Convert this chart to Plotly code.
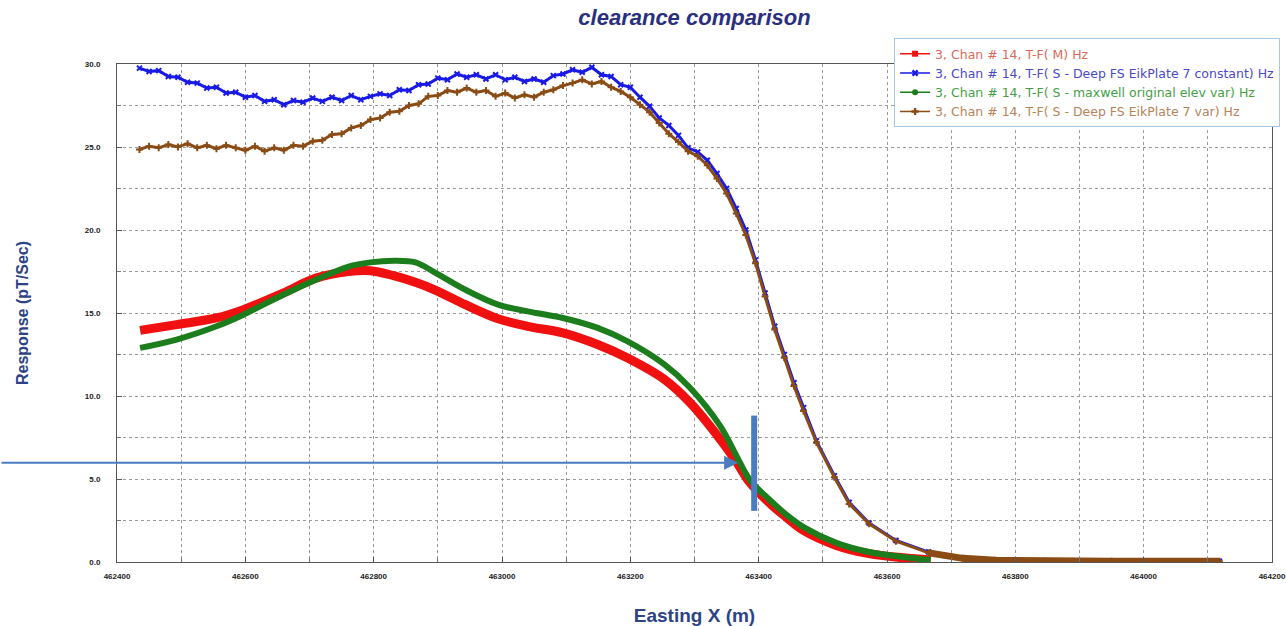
import plotly.graph_objects as go

# ---------------- data ----------------
noisy_x = [462435 + 15 * k for k in range(58)] + [
    463305, 463320, 463335, 463350, 463365, 463380, 463395, 463410, 463425,
    463440, 463455, 463470, 463490, 463518, 463541, 463572, 463614, 463665,
    463718, 463769, 463846, 463950, 464118]

blue_y = [29.75, 29.55, 29.6, 29.25, 29.2, 28.9, 28.85, 28.55, 28.6, 28.25,
          28.3, 28.0, 28.1, 27.75, 27.85, 27.55, 27.8, 27.7, 27.95, 27.75,
          28.0, 27.8, 28.1, 27.85, 28.05, 28.2, 28.1, 28.45, 28.4, 28.75,
          28.8, 29.15, 29.05, 29.4, 29.2, 29.35, 29.1, 29.35, 29.05, 29.2,
          28.95, 29.1, 28.9, 29.3, 29.4, 29.65, 29.5, 29.8, 29.35, 29.25,
          28.75, 28.6, 28.0, 27.45, 26.75, 26.3, 25.7, 24.95,
          24.7, 24.2, 23.4, 22.5, 21.3, 20.0, 18.2, 16.2, 14.2,
          12.5, 10.8, 9.3, 7.3, 5.2, 3.6, 2.35, 1.3, 0.6,
          0.25, 0.12, 0.06, 0.05, 0.05]

brown_y = [24.85, 25.05, 24.95, 25.15, 25.0, 25.2, 24.95, 25.1, 24.9, 25.1,
           24.95, 24.8, 25.05, 24.75, 24.95, 24.8, 25.1, 25.05, 25.35, 25.4,
           25.75, 25.8, 26.15, 26.3, 26.65, 26.75, 27.1, 27.15, 27.5, 27.6,
           28.05, 28.1, 28.4, 28.3, 28.55, 28.3, 28.4, 28.05, 28.25, 27.95,
           28.15, 28.0, 28.3, 28.45, 28.7, 28.85, 29.05, 28.8, 28.95, 28.6,
           28.35, 28.0, 27.55, 27.1, 26.45, 25.8, 25.3, 24.75,
           24.45, 23.9, 23.1, 22.2, 21.0, 19.7, 18.0, 16.0, 14.0,
           12.3, 10.6, 9.1, 7.2, 5.1, 3.5, 2.3, 1.25, 0.55,
           0.22, 0.1, 0.05, 0.04, 0.04]

smooth_x = [462436, 462493, 462555, 462597, 462659, 462710, 462761, 462795,
            462831, 462865, 462895, 462943, 462994, 463040, 463095, 463149,
            463195, 463253, 463293, 463340, 463366, 463386, 463417, 463443,
            463470, 463521, 463572, 463625, 463668]

red_y = [13.95, 14.3, 14.7, 15.2, 16.2, 17.1, 17.5, 17.55, 17.25, 16.85,
         16.4, 15.5, 14.65, 14.2, 13.8, 13.1, 12.3, 11.0, 9.6, 7.4, 6.0,
         4.8, 3.55, 2.7, 1.9, 1.0, 0.5, 0.25, 0.12]

green_y = [12.9, 13.4, 14.2, 14.9, 16.1, 17.0, 17.8, 18.05, 18.15, 18.05,
           17.45, 16.4, 15.5, 15.1, 14.7, 14.1, 13.3, 11.9, 10.5, 8.2, 6.35,
           4.95, 3.75, 2.85, 2.1, 1.15, 0.6, 0.3, 0.12]

names = ["3, Chan # 14, T-F( M) Hz",
         "3, Chan # 14, T-F( S - Deep FS EikPlate 7 constant) Hz",
         "3, Chan # 14, T-F( S - maxwell original elev var) Hz",
         "3, Chan # 14, T-F( S - Deep FS EikPlate 7 var) Hz"]

arrow_tip = (463368, 5.98)
marker_line_x = 463393
marker_line_y = (3.08, 8.82)

# ---------------- styles ----------------
RED = "#f01010"
BLUE = "#1a1ae6"
GREEN = "#1b7d1b"
BROWN = "#8a4b14"
name_colors = ["#d86a5c", "#4a4ac8", "#44a044", "#b88358"]
ANNOT = "#4a7cc0"
FONT = "Liberation Sans, Arial, sans-serif"
LEG_FONT = "DejaVu Sans, sans-serif"

fig = go.Figure()

fig.add_trace(go.Scatter(x=noisy_x, y=blue_y, mode="lines+markers",
                         line=dict(color=BLUE, width=3),
                         marker=dict(symbol="x-thin", size=5, color=BLUE,
                                     line=dict(color=BLUE, width=2)),
                         showlegend=False))
fig.add_trace(go.Scatter(x=noisy_x, y=brown_y, mode="lines+markers",
                         line=dict(color=BROWN, width=3),
                         marker=dict(symbol="cross-thin", size=5, color=BROWN,
                                     line=dict(color=BROWN, width=2)),
                         showlegend=False))
fig.add_trace(go.Scatter(x=smooth_x, y=red_y, mode="lines",
                         line=dict(color=RED, width=9, shape="spline"),
                         showlegend=False))
fig.add_trace(go.Scatter(x=smooth_x, y=green_y, mode="lines",
                         line=dict(color=GREEN, width=6, shape="spline"),
                         showlegend=False))
# brown tail drawn on top near zero like the reference
fig.add_trace(go.Scatter(x=noisy_x[-6:], y=brown_y[-6:], mode="lines",
                         line=dict(color=BROWN, width=7),
                         showlegend=False))

# legend entries
leg_styles = [
    dict(line=dict(color=RED, width=1.5), marker=dict(symbol="square", size=6, color=RED)),
    dict(line=dict(color=BLUE, width=1.5), marker=dict(symbol="x", size=6, color=BLUE)),
    dict(line=dict(color=GREEN, width=1.5), marker=dict(symbol="circle", size=6, color=GREEN)),
    dict(line=dict(color=BROWN, width=1.5), marker=dict(symbol="cross", size=6, color=BROWN)),
]
for nm, col, st in zip(names, name_colors, leg_styles):
    fig.add_trace(go.Scatter(x=[None], y=[None], mode="lines+markers",
                             name=f"<span style='color:{col}'>{nm}</span>", **st))

fig.add_annotation(x=arrow_tip[0], y=arrow_tip[1], xref="x", yref="y",
                   ax=-740, ay=0, axref="pixel", ayref="pixel",
                   showarrow=True, arrowhead=2, arrowsize=1.4, arrowwidth=2,
                   arrowcolor=ANNOT, text="", standoff=0)
fig.add_shape(type="line", xref="x", yref="y",
              x0=marker_line_x, x1=marker_line_x,
              y0=marker_line_y[0], y1=marker_line_y[1],
              line=dict(color=ANNOT, width=6))

grid = dict(showgrid=True, gridcolor="#9a9a9a", griddash="dot", gridwidth=1)

fig.update_layout(
    width=1286, height=626,
    margin=dict(l=117, r=14, t=64, b=64, autoexpand=False),
    paper_bgcolor="white", plot_bgcolor="white",
    font=dict(family=FONT, color="#222"),
    title=dict(text="<b><i>clearance comparison</i></b>", x=0.5, xref="paper",
               y=1 - 17 / 626, yref="container", yanchor="middle",
               font=dict(size=22, color="#2b2f80", family=FONT)),
    xaxis=dict(range=[462400, 464200], tick0=462400, dtick=200, automargin=False,
               tickformat="d", showline=True, mirror=True, linecolor="#555",
               ticks="inside", ticklen=5, tickcolor="#555",
               ticklabelstandoff=6,
               tickfont=dict(size=8, color="#222", family=FONT, weight="bold"),
               minor=dict(dtick=100, ticks="inside", ticklen=4, tickcolor="#777", **grid),
               title=dict(text="<b>Easting X (m)</b>", standoff=30,
                          font=dict(size=19, color="#2d4384", family=FONT)),
               zeroline=False, **grid),
    yaxis=dict(range=[0, 30], tick0=0, dtick=5, tickformat=".1f", automargin=False,
               showline=True, mirror=True, linecolor="#555",
               ticks="inside", ticklen=5, tickcolor="#555",
               ticklabelstandoff=14,
               tickfont=dict(size=8, color="#222", family=FONT, weight="bold"),
               minor=dict(dtick=2.5, ticks="inside", ticklen=4, tickcolor="#777", **grid),
               title=dict(text="<b>Response (pT/Sec)</b>", standoff=52,
                          font=dict(size=16, color="#2d4384", family=FONT)),
               zeroline=False, **grid),
    legend=dict(x=1.007, xanchor="right", y=1.052, yanchor="top",
                bgcolor="white", bordercolor="#a8c8e8", borderwidth=1,
                font=dict(size=12.5, family=LEG_FONT), tracegroupgap=0,
                itemwidth=30),
)

fig.write_html("out.html")
